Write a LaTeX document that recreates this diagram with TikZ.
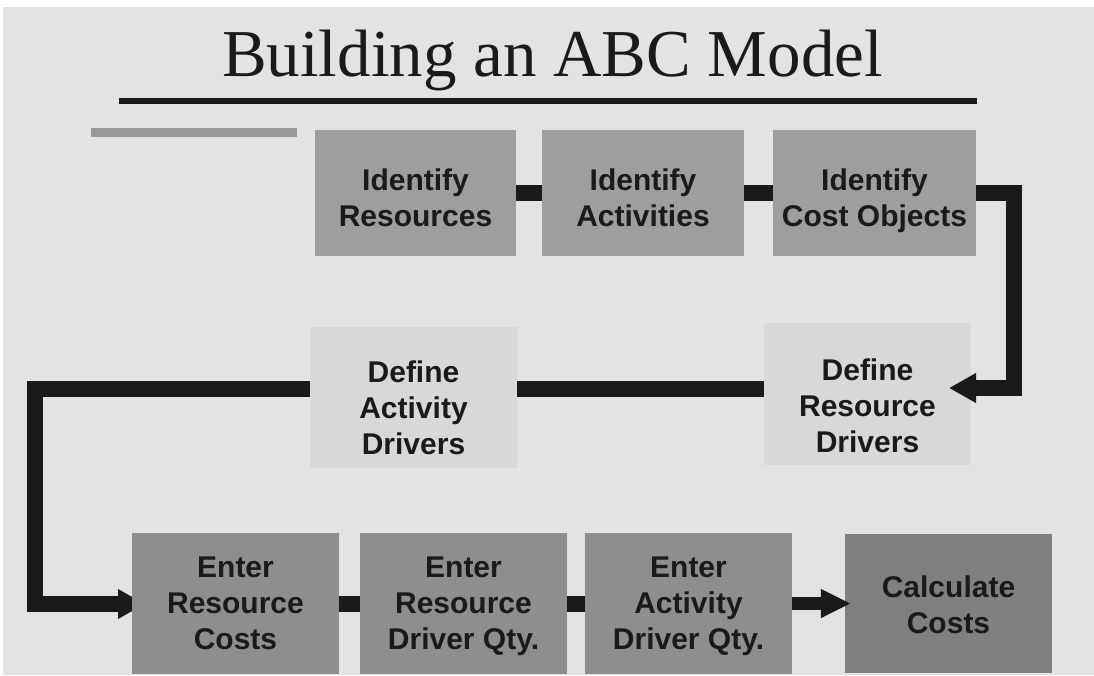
\documentclass[tikz,border=0pt]{standalone}
\usepackage{fontspec}
\setmainfont{Liberation Serif}
\newfontfamily\boxfont{Liberation Sans}
\usepackage{tikz}
\usetikzlibrary{arrows.meta,positioning}
\definecolor{ink}{HTML}{1A1A1A}
\definecolor{pagegray}{HTML}{E3E3E3}
\definecolor{topgray}{HTML}{9E9E9E}
\definecolor{midgray}{HTML}{D8D8D8}
\definecolor{lowgray}{HTML}{8E8E8E}
\definecolor{endgray}{HTML}{808080}
\definecolor{bargray}{HTML}{999999}

\begin{document}
\begin{tikzpicture}[x=1pt,y=-1pt,
  stepbox/.style={minimum width=203pt,minimum height=126pt,inner sep=0pt,align=center,text=ink,
    font=\boxfont\bfseries\fontsize{30}{36}\selectfont,
    execute at begin node={\rule{0pt}{#1pt}},
    execute at end node={\rule[-10pt]{0pt}{10pt}}},
  stepbox/.default=76,
  flow/.style={draw=ink,line width=16pt,line join=miter},
  head/.style={-{Triangle[length=27pt,width=28pt]}}]
\useasboundingbox (0,0) rectangle (1094,675);
\fill[white] (0,0) rectangle (1094,675);
\fill[pagegray] (3,7) rectangle (1094,675);

% Title
\node[anchor=base,text=ink,font=\fontsize{67}{80}\selectfont] (title) at (552.5,76) {Building an ABC Model};
\fill[ink] (119,98) rectangle (977,104);
\fill[bargray] (91,128) rectangle (297,137);

% Identify
\node[stepbox,fill=topgray,minimum width=201pt] (res) at (415.5,193) {Identify\\Resources};
\node[stepbox,fill=topgray,minimum width=202pt] (act) at (643,193) {Identify\\Activities};
\node[stepbox,fill=topgray] (obj) at (874.5,193) {Identify\\Cost Objects};
\draw[flow] (res) -- (act);
\draw[flow] (act) -- (obj);

% Define drivers
\node[stepbox=127,fill=midgray,minimum width=207pt,minimum height=142pt] (rdrv) at (867.5,394) {Define\\Resource\\Drivers};
\node[stepbox=123,fill=midgray,minimum width=207pt,minimum height=141pt] (adrv) at (413.5,397.5) {Define\\Activity\\Drivers};
\coordinate (rturn) at (1013.5,388);
\coordinate (rtip) at (949,388);
\coordinate (lturn) at (35,389);
\coordinate (ltip) at (145,604);
\draw[flow,head] (obj.east) -| (rturn) -- (rtip);
\draw[flow] (rdrv.west |- lturn) -- (adrv.east |- lturn);
\draw[flow,head] (adrv.west |- lturn) -- (lturn) |- (ltip);

% Enter and calculate
\node[stepbox=101,fill=lowgray,minimum width=207pt,minimum height=141pt] (rcost) at (235.5,603.5) {Enter\\Resource\\Costs};
\node[stepbox=101,fill=lowgray,minimum width=207pt,minimum height=141pt] (rqty) at (463.5,603.5) {Enter\\Resource\\Driver Qty.};
\node[stepbox=101,fill=lowgray,minimum width=207pt,minimum height=141pt] (aqty) at (688.5,603.5) {Enter\\Activity\\Driver Qty.};
\node[stepbox=69,fill=endgray,minimum width=207pt,minimum height=139pt] (calc) at (948.5,603.5) {Calculate\\Costs};
\draw[flow] (rcost) -- (rqty);
\draw[flow] (rqty) -- (aqty);
\draw[flow,line width=13pt,-{Triangle[length=30pt,width=27pt]}] (aqty) -- ([xshift=6pt]calc.west);
\end{tikzpicture}
\end{document}
